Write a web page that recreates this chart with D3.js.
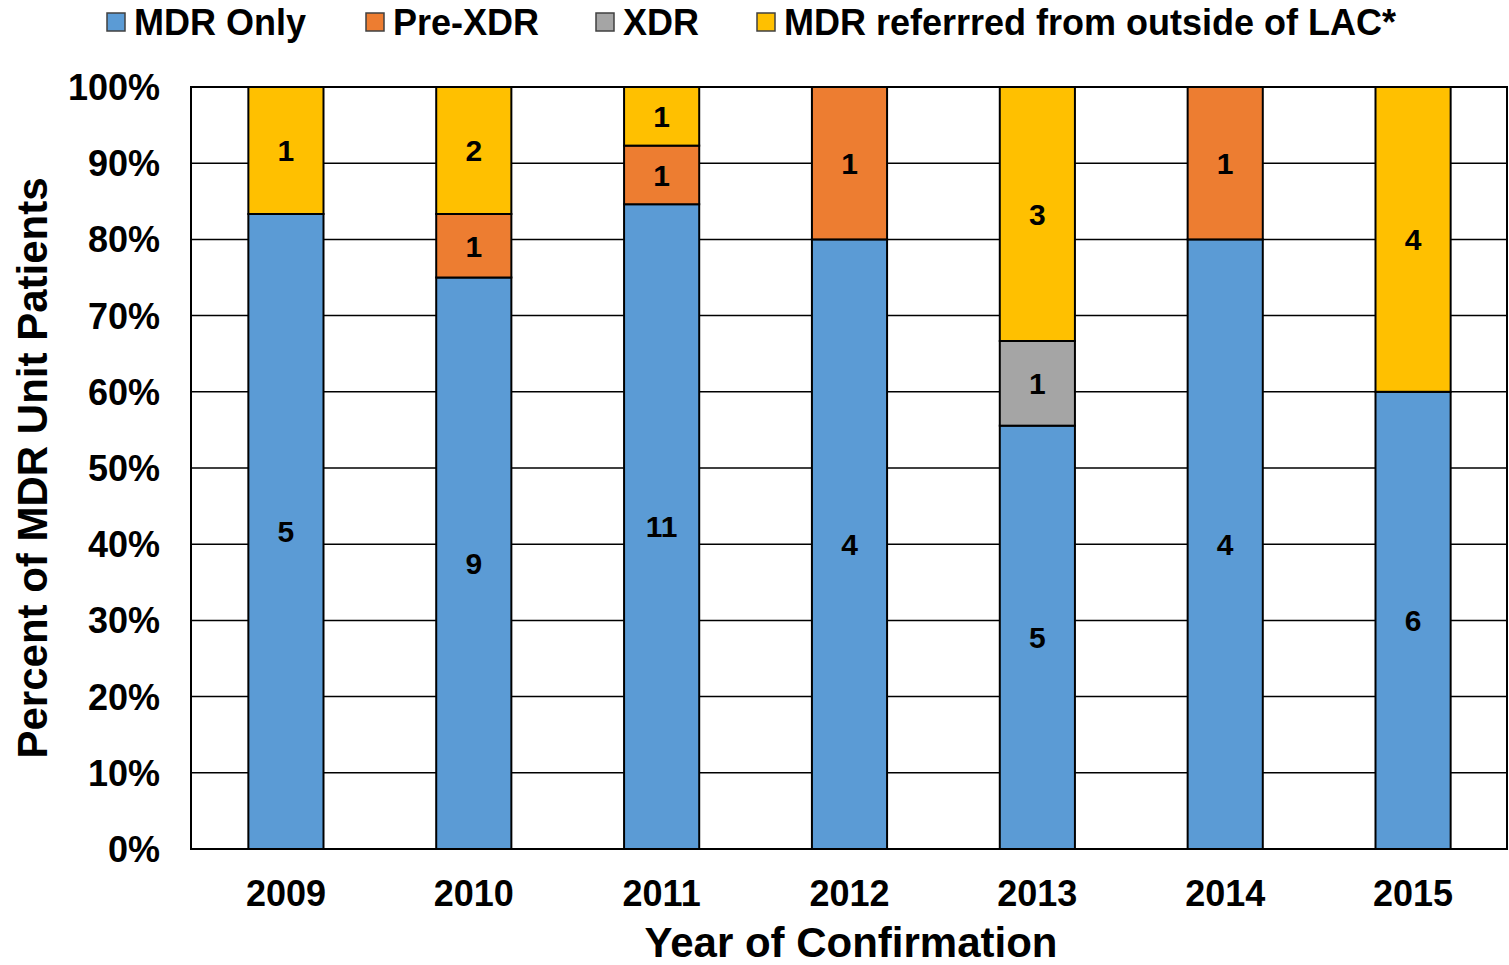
<!DOCTYPE html>
<html>
<head>
<meta charset="utf-8">
<script src="https://cdn.jsdelivr.net/npm/d3@7"></script>
<style>
  body { margin: 0; background: #fff; }
  text { font-family: "Liberation Sans", Arial, sans-serif; font-weight: bold; }
</style>
</head>
<body>
<div id="chart"></div>
<script>
var years = ["2009", "2010", "2011", "2012", "2013", "2014", "2015"];
var seriesNames = ["MDR Only", "Pre-XDR", "XDR", "MDR referrred from outside of LAC*"];
var seriesKeys = ["mdr", "pre", "xdr", "ref"];
var mdrOnly = [5, 9, 11, 4, 5, 4, 6];
var preXdr = [0, 1, 1, 1, 0, 1, 0];
var xdr = [0, 0, 0, 0, 1, 0, 0];
var referred = [1, 2, 1, 0, 3, 0, 4];
var yTicks = [0, 0.1, 0.2, 0.3, 0.4, 0.5, 0.6, 0.7, 0.8, 0.9, 1];
var colors = ["#5B9BD5", "#ED7D31", "#A5A5A5", "#FFC000"];

var W = 1509, H = 965;
var m = {t: 87, r: 2, b: 116, l: 191};
var w = W - m.l - m.r, h = H - m.t - m.b;

var rows = years.map(function(y, i){
    var r = {year: y, mdr: mdrOnly[i], pre: preXdr[i], xdr: xdr[i], ref: referred[i]};
    r.total = r.mdr + r.pre + r.xdr + r.ref;
    return r;
});

var svg = d3.select("#chart").append("svg")
    .attr("width", W).attr("height", H);
var g = svg.append("g").attr("transform", "translate(" + m.l + "," + m.t + ")");

var x = d3.scaleBand().domain(years).range([1, w])
    .paddingInner(0.6).paddingOuter(0.3);
var y = d3.scaleLinear().domain([0, 1]).range([h, 0]);

// gridlines
g.selectAll(".grid").data(yTicks).enter().append("line")
    .attr("x1", 0).attr("x2", w)
    .attr("y1", function(d){ return y(d); }).attr("y2", function(d){ return y(d); })
    .attr("stroke", "#000").attr("stroke-width", 1.5);

// frame
g.append("rect").attr("x", 0).attr("y", 0).attr("width", w).attr("height", h)
    .attr("fill", "none").attr("stroke", "#000").attr("stroke-width", 2);

var stack = d3.stack().keys(seriesKeys)
    .value(function(d, k){ return d[k] / d.total; });
var layers = stack(rows);

var lg = g.selectAll(".layer").data(layers).enter().append("g")
    .attr("fill", function(d, i){ return colors[i]; });

lg.selectAll("rect").data(function(d){ return d.filter(function(s){ return s[1] - s[0] > 0; }); })
    .enter().append("rect")
    .attr("x", function(d){ return x(d.data.year); })
    .attr("y", function(d){ return y(d[1]); })
    .attr("width", x.bandwidth())
    .attr("height", function(d){ return y(d[0]) - y(d[1]); })
    .attr("stroke", "#000").attr("stroke-width", 2);

// value labels
layers.forEach(function(layer){
    layer.forEach(function(s){
        var v = s.data[layer.key];
        if (!v) return;
        g.append("text")
            .attr("x", x(s.data.year) + x.bandwidth() / 2)
            .attr("y", y((s[0] + s[1]) / 2))
            .attr("dy", "0.36em")
            .attr("text-anchor", "middle")
            .style("font-size", "30px")
            .text(v);
    });
});

// y tick labels
g.selectAll(".ytick").data(yTicks).enter().append("text")
    .attr("x", -31).attr("y", function(d){ return y(d); })
    .attr("dy", "0.36em").attr("text-anchor", "end")
    .style("font-size", "36px")
    .text(d3.format(".0%"));

// x tick labels
g.selectAll(".xtick").data(years).enter().append("text")
    .attr("x", function(d){ return x(d) + x.bandwidth() / 2; })
    .attr("y", h + 57).attr("text-anchor", "middle")
    .style("font-size", "36px")
    .text(function(d){ return d; });

// axis titles
svg.append("text").attr("x", m.l + w / 2 + 2).attr("y", 957)
    .attr("text-anchor", "middle").style("font-size", "42px")
    .text("Year of Confirmation");
svg.append("text")
    .attr("transform", "translate(47," + (m.t + h / 2) + ") rotate(-90)")
    .attr("text-anchor", "middle").style("font-size", "42px")
    .text("Percent of MDR Unit Patients");

// legend
var legX = [107, 366, 596, 757];
var leg = svg.selectAll(".leg").data(seriesNames).enter().append("g")
    .attr("transform", function(d, i){ return "translate(" + legX[i] + ",13)"; });
leg.append("rect").attr("width", 18).attr("height", 18)
    .attr("fill", function(d, i){ return colors[i]; })
    .attr("stroke", "#404040").attr("stroke-width", 1.5);
leg.append("text").attr("x", 27).attr("y", 9).attr("dy", "0.36em")
    .style("font-size", "36px")
    .text(function(d){ return d; });
</script>
</body>
</html>
